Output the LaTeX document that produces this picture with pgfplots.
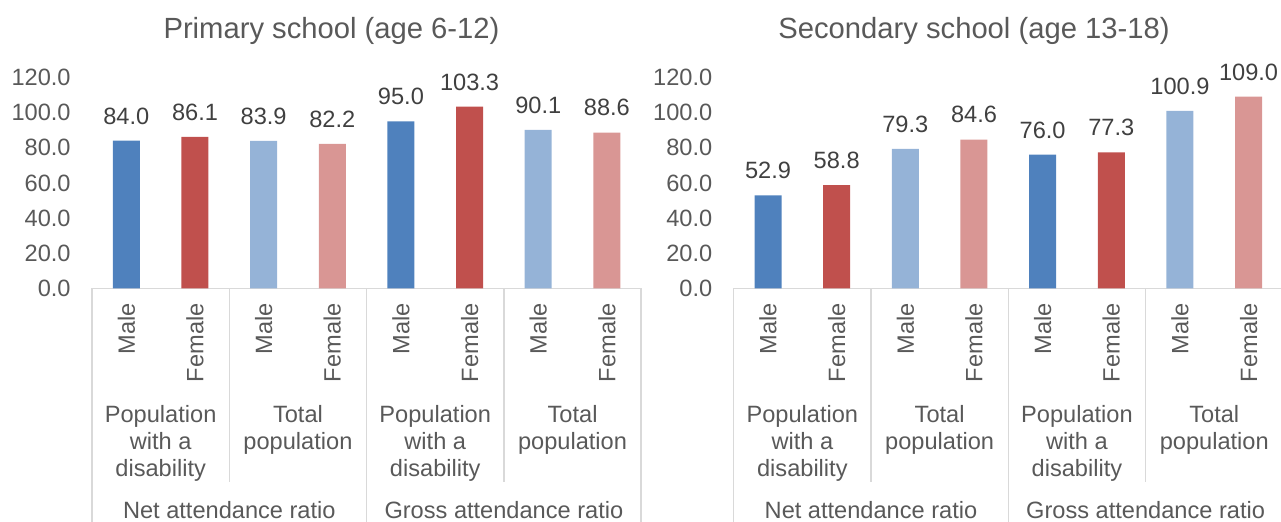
\documentclass[border=0pt]{standalone}
\usepackage{fontspec}
\setmainfont{Liberation Sans}
\usepackage{pgfplots}
\pgfplotsset{compat=1.18}

\definecolor{c1}{HTML}{4F81BD}
\definecolor{c2}{HTML}{C0504D}
\definecolor{c3}{HTML}{95B3D7}
\definecolor{c4}{HTML}{D99694}
\definecolor{txt}{HTML}{595959}
\definecolor{lbl}{HTML}{404040}
\definecolor{linegrey}{HTML}{D9D9D9}

\newcommand\lab{\fontsize{11.8pt}{13.5pt}\selectfont}

\pgfplotsset{
  panel/.style={
    scale only axis, width=274.6pt, height=105.6pt,
    xmin=-0.5, xmax=7.5, ymin=0, ymax=120,
    clip=false,
    ytick={0,20,...,120}, xtick={0,...,7},
    xticklabels={Male,Female,Male,Female,Male,Female,Male,Female},
    axis lines*=left,
    y axis line style={draw=none},
    x axis line style={draw=linegrey, line width=0.75pt},
    major tick length=0pt,
    /pgf/number format/assume math mode=true,
    /pgf/number format/.cd, fixed, fixed zerofill, precision=1,
    /pgfplots/.cd,
    yticklabel style={anchor=east, inner sep=0pt, xshift=-10.5pt, font=\lab, text=txt},
    xticklabel style={yshift=-7.25pt, rotate=90, anchor=east, inner sep=0pt, font=\lab, text=txt},
    ybar, bar width=13.5pt, bar shift=0pt,
    nodes near coords,
    every node near coord/.append style={font=\lab, text=lbl, inner sep=0pt, anchor=south, yshift=8pt},
  },
}
\tikzset{
  sep/.style={draw=linegrey, line width=0.75pt},
  grp/.style={font=\lab, text=txt, align=center, inner sep=0pt},
}

\newcommand\cats{
  \draw[sep] (axis cs:-0.5,0) -- ([yshift=-117pt]axis cs:-0.5,0);
  \draw[sep] (axis cs:1.5,0) -- ([yshift=-96.75pt]axis cs:1.5,0);
  \draw[sep] (axis cs:3.5,0) -- ([yshift=-117pt]axis cs:3.5,0);
  \draw[sep] (axis cs:5.5,0) -- ([yshift=-96.75pt]axis cs:5.5,0);
  \draw[sep] (axis cs:7.5,0) -- ([yshift=-117pt]axis cs:7.5,0);
  \node[grp, anchor=north] at ([yshift=-58.4pt]axis cs:0.5,0) {Population\\with a\\disability};
  \node[grp, anchor=north] at ([yshift=-58.4pt]axis cs:2.5,0) {Total\\population};
  \node[grp, anchor=north] at ([yshift=-58.4pt]axis cs:4.5,0) {Population\\with a\\disability};
  \node[grp, anchor=north] at ([yshift=-58.4pt]axis cs:6.5,0) {Total\\population};
  \node[grp, anchor=base] at ([yshift=-115.25pt]axis cs:1.5,0) {Net attendance ratio};
  \node[grp, anchor=base] at ([yshift=-115.25pt]axis cs:5.5,0) {Gross attendance ratio};
}

\begin{document}
\begin{tikzpicture}
\useasboundingbox (0,0) rectangle (640.5pt,-261pt);

\node[anchor=base, font=\fontsize{14.6pt}{17pt}\selectfont, text=txt] at (165.75pt,-19.15pt) {Primary school (age 6-12)};
\node[anchor=base, font=\fontsize{14.6pt}{17pt}\selectfont, text=txt] at (487pt,-19.15pt) {Secondary school (age 13-18)};

% primary school
\begin{axis}[panel, at={(46pt,-144.25pt)}, anchor=south west]
\addplot[fill=c1, draw=none] coordinates {(0,84.0) (4,95.0)};
\addplot[fill=c2, draw=none] coordinates {(1,86.1) (5,103.3)};
\addplot[fill=c3, draw=none] coordinates {(2,83.9) (6,90.1)};
\addplot[fill=c4, draw=none] coordinates {(3,82.2) (7,88.6)};
\cats
\end{axis}

% secondary school
\begin{axis}[panel, at={(366.85pt,-144.25pt)}, anchor=south west]
\addplot[fill=c1, draw=none] coordinates {(0,52.9) (4,76.0)};
\addplot[fill=c2, draw=none] coordinates {(1,58.8) (5,77.3)};
\addplot[fill=c3, draw=none] coordinates {(2,79.3) (6,100.9)};
\addplot[fill=c4, draw=none] coordinates {(3,84.6) (7,109.0)};
\cats
\end{axis}
\end{tikzpicture}
\end{document}
